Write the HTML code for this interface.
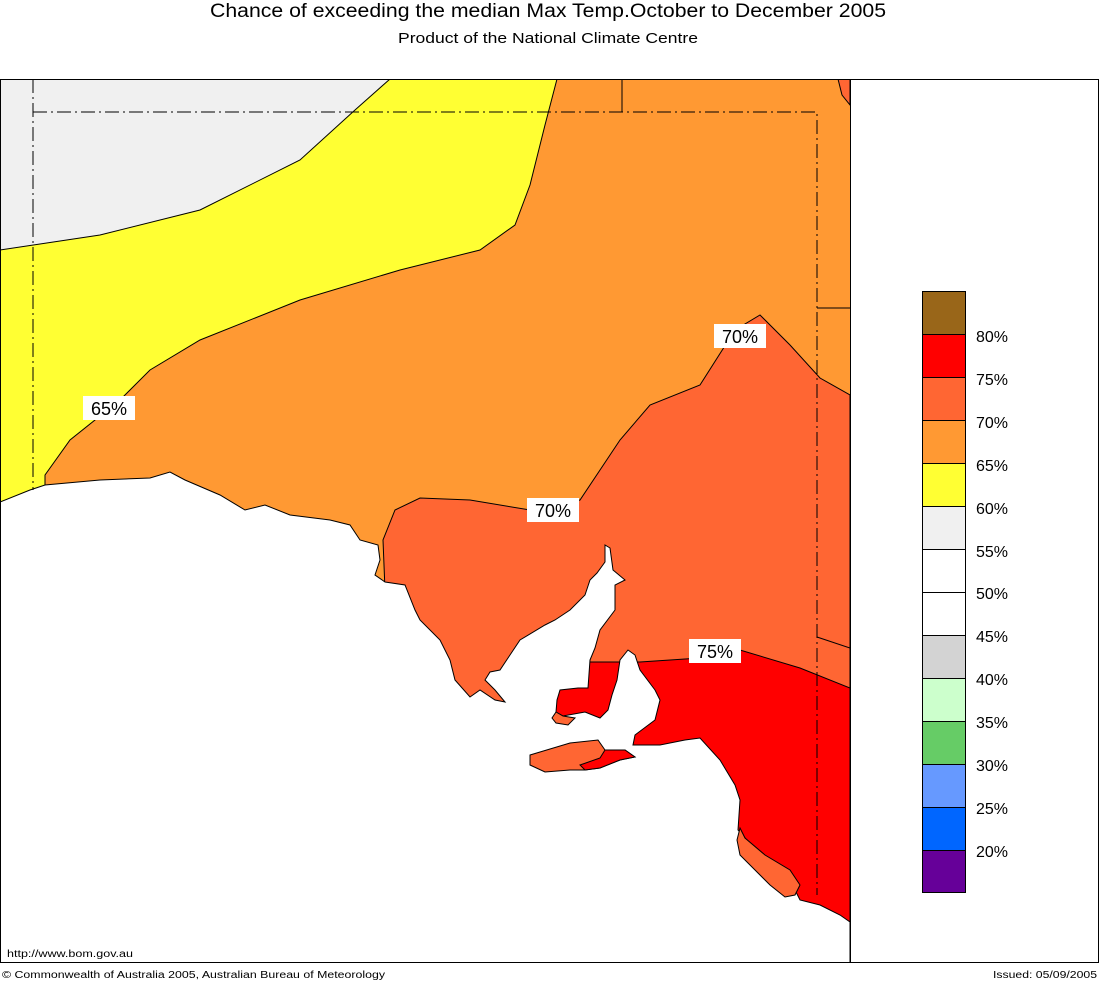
<!DOCTYPE html>
<html><head><style>
body{margin:0;background:#fff;}
svg{display:block;font-family:"Liberation Sans",Arial,sans-serif;}
</style></head><body>
<svg width="1099" height="982" viewBox="0 0 1099 982" xmlns="http://www.w3.org/2000/svg">
<text x="210" y="17" font-size="19" textLength="676" lengthAdjust="spacingAndGlyphs">Chance of exceeding the median Max Temp.October to December 2005</text>
<text x="398" y="43" font-size="15" textLength="300" lengthAdjust="spacingAndGlyphs">Product of the National Climate Centre</text>
<defs><clipPath id="m"><rect x="0" y="79" width="850" height="884"/></clipPath></defs>
<g clip-path="url(#m)" stroke="#000" stroke-width="1">
<rect x="0" y="79" width="850" height="884" fill="#FF9933" stroke="none"/>
<path d="M0,79 L557,79 L545,125 L530,185 L515,225 L480,250 L400,270 L300,300 L200,340 L150,370 L120,400 L70,440 L45,475 L45,490 L0,502 Z" fill="#FFFF33"/>
<path d="M0,79 L390,79 L355,110 L300,160 L200,210 L100,235 L0,250 Z" fill="#F0F0F0"/>
<path d="M385,590 L383,540 L395,510 L420,498 L470,500 L530,510 L580,500 L620,440 L650,405 L700,385 L735,330 L760,315 L790,345 L820,378 L850,395 L850,963 L380,963 Z" fill="#FF6633"/>
<path d="M838,79 L850,79 L850,105 L842,95 Z" fill="#FF6633"/>
<path d="M585,662 L640,662 L700,658 L740,650 L800,668 L850,688 L850,963 L540,963 L540,700 Z" fill="#FF0000"/>
<path d="M0,502 L30,490 L45,485 L100,480 L150,478 L170,472 L185,480 L220,495 L245,510 L265,505 L290,515 L330,520 L350,525 L360,540 L378,545 L380,560 L375,575 L385,582 L405,585 L415,610 L420,620 L440,640 L450,660 L455,680 L470,697 L480,690 L495,700 L505,702 L495,690 L485,680 L490,672 L500,670 L520,640 L545,625 L555,620 L570,610 L585,595 L590,580 L597,573 L605,562 L605,545 L610,548 L613,570 L625,580 L615,585 L615,610 L600,630 L595,648 L590,660 L588,688 L578,688 L560,690 L557,700 L556,712 L563,716 L585,712 L600,718 L608,710 L612,695 L617,680 L620,660 L628,650 L635,655 L640,670 L655,690 L660,700 L655,720 L635,735 L633,745 L660,745 L685,740 L700,738 L720,760 L735,785 L740,800 L738,830 L760,855 L790,880 L800,900 L820,905 L840,915 L850,922 L850,963 L0,963 Z" fill="#fff"/>
<path d="M740,828 L745,838 L765,855 L790,870 L800,885 L795,895 L785,897 L770,885 L755,870 L740,855 L737,840 Z" fill="#FF6633"/>
<path d="M530,755 L570,743 L598,740 L605,750 L625,750 L635,757 L620,760 L600,768 L585,770 L570,770 L545,772 L530,765 Z" fill="#FF6633"/>
<path d="M605,750 L625,750 L635,757 L620,760 L600,768 L585,770 L580,765 L600,758 Z" fill="#FF0000"/>
<path d="M556,712 L563,716 L575,718 L568,725 L556,723 L552,718 Z" fill="#FF6633"/>
<g fill="none" stroke-dasharray="14,4,2,4">
<path d="M33,79 L33,490"/><path d="M33,112 L817,112 L817,895"/>
</g>
<path d="M622,79 L622,112 M817,308 L850,308 M817,637 L850,648" fill="none"/>
</g>
<rect x="0.5" y="79.5" width="1098" height="883" fill="none" stroke="#000"/>
<line x1="850.5" y1="79" x2="850.5" y2="963" stroke="#000"/>
<g font-size="18" text-anchor="middle">
<rect x="83" y="396" width="52" height="24" fill="#fff"/><text x="109" y="415">65%</text>
<rect x="714" y="324" width="52" height="24" fill="#fff"/><text x="740" y="343">70%</text>
<rect x="527" y="498" width="52" height="24" fill="#fff"/><text x="553" y="517">70%</text>
<rect x="689" y="639" width="52" height="24" fill="#fff"/><text x="715" y="658">75%</text>
</g>
<g stroke="#000" stroke-width="1">
<rect x="922.5" y="291.5" width="43" height="43" fill="#996619"/>
<rect x="922.5" y="334.5" width="43" height="43" fill="#FF0000"/>
<rect x="922.5" y="377.5" width="43" height="43" fill="#FF6633"/>
<rect x="922.5" y="420.5" width="43" height="43" fill="#FF9933"/>
<rect x="922.5" y="463.5" width="43" height="43" fill="#FFFF33"/>
<rect x="922.5" y="506.5" width="43" height="43" fill="#F0F0F0"/>
<rect x="922.5" y="549.5" width="43" height="43" fill="#fff"/>
<rect x="922.5" y="592.5" width="43" height="43" fill="#fff"/>
<rect x="922.5" y="635.5" width="43" height="43" fill="#D3D3D3"/>
<rect x="922.5" y="678.5" width="43" height="43" fill="#CCFFCC"/>
<rect x="922.5" y="721.5" width="43" height="43" fill="#66CC66"/>
<rect x="922.5" y="764.5" width="43" height="43" fill="#6699FF"/>
<rect x="922.5" y="807.5" width="43" height="43" fill="#0066FF"/>
<rect x="922.5" y="850.5" width="43" height="42" fill="#660099"/>
</g>
<g font-size="16">
<text x="976" y="342">80%</text><text x="976" y="385">75%</text><text x="976" y="428">70%</text>
<text x="976" y="471">65%</text><text x="976" y="514">60%</text><text x="976" y="557">55%</text>
<text x="976" y="599">50%</text><text x="976" y="642">45%</text><text x="976" y="685">40%</text>
<text x="976" y="728">35%</text><text x="976" y="771">30%</text><text x="976" y="814">25%</text>
<text x="976" y="857">20%</text>
</g>
<text x="7" y="957" font-size="10" textLength="126" lengthAdjust="spacingAndGlyphs">http://www.bom.gov.au</text>
<text x="2" y="978" font-size="10" textLength="383" lengthAdjust="spacingAndGlyphs">© Commonwealth of Australia 2005, Australian Bureau of Meteorology</text>
<text x="993" y="978" font-size="10" textLength="104" lengthAdjust="spacingAndGlyphs">Issued: 05/09/2005</text>
</svg>
</body></html>
